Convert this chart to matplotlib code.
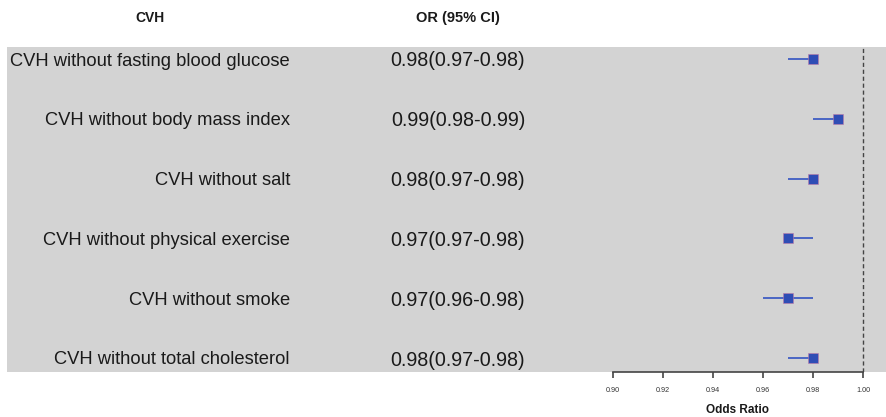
import matplotlib
matplotlib.use('Agg')
import matplotlib.pyplot as plt
from matplotlib.transforms import blended_transform_factory

plt.rcParams['font.family'] = ['Liberation Sans', 'DejaVu Sans']

labels = ['CVH without fasting blood glucose',
          'CVH without body mass index',
          'CVH without salt',
          'CVH without physical exercise',
          'CVH without smoke',
          'CVH without total cholesterol']
odds = [0.98, 0.99, 0.98, 0.97, 0.97, 0.98]
lower = [0.97, 0.98, 0.97, 0.97, 0.96, 0.97]
upper = [0.98, 0.99, 0.98, 0.98, 0.98, 0.98]
ticks = [0.90, 0.92, 0.94, 0.96, 0.98, 1.00]

W, H = 886, 417
fig = plt.figure(figsize=(W / 100, H / 100), dpi=100)
ax = fig.add_axes([7 / W, (H - 372) / H, 1 - 7 / W, 325 / H])
ax.set_facecolor('#d3d3d3')

# x scale: 0.90 sits at 613 px, 1.00 at 863 px
px = 2500.0
ax.set_xlim(0.90 - (613 - 7) / px, 1.00 + (886 - 863) / px)
ax.set_ylim(5 + 14 / 59.8, -12 / 59.8)

rows = range(len(labels))
ax.hlines(rows, lower, upper, color='#4a66c4', lw=1.4, zorder=2)
ax.plot(odds, rows, 's', color='#2f4db5', markersize=7.5,
        markeredgecolor='#c07aa8', markeredgewidth=0.4, zorder=3)
ax.axvline(1.0, color='#444444', lw=1.0, ls=(0, (3, 2)), zorder=1)

for s in ['top', 'right', 'left']:
    ax.spines[s].set_visible(False)
ax.spines['bottom'].set_bounds(ticks[0], ticks[-1])
ax.spines['bottom'].set_color('#444444')
ax.spines['bottom'].set_linewidth(1.2)
ax.set_yticks([])
ax.set_xticks(ticks)
ax.set_xticklabels(['%.2f' % t for t in ticks])
ax.tick_params(axis='x', length=4, width=1.2, color='#444444',
               labelsize=5.2, labelcolor='#333333', pad=7)

# axis title centred under the tick range
xt = blended_transform_factory(ax.transData, fig.transFigure)
ax.text((ticks[0] + ticks[-1]) / 2, 1 - 410 / H, 'Odds Ratio', transform=xt,
        ha='center', va='center', fontsize=8.5, fontweight='bold',
        color='#1a1a1a')

tr = blended_transform_factory(fig.transFigure, ax.transData)
for i in rows:
    ax.text(290 / W, i, labels[i], transform=tr, ha='right',
            va='center_baseline', fontsize=13.2, color='#1a1a1a')
    ax.text(458 / W, i, '%.2f(%.2f-%.2f)' % (odds[i], lower[i], upper[i]),
            transform=tr, ha='center', va='center_baseline', fontsize=14.2,
            color='#1a1a1a')

fig.text(150 / W, 1 - 18 / H, 'CVH', ha='center', va='center',
         fontsize=10, fontweight='bold', color='#1a1a1a')
fig.text(458 / W, 1 - 18 / H, 'OR (95% CI)', ha='center', va='center',
         fontsize=10.5, fontweight='bold', color='#1a1a1a')

fig.savefig('out.png', dpi=100)
